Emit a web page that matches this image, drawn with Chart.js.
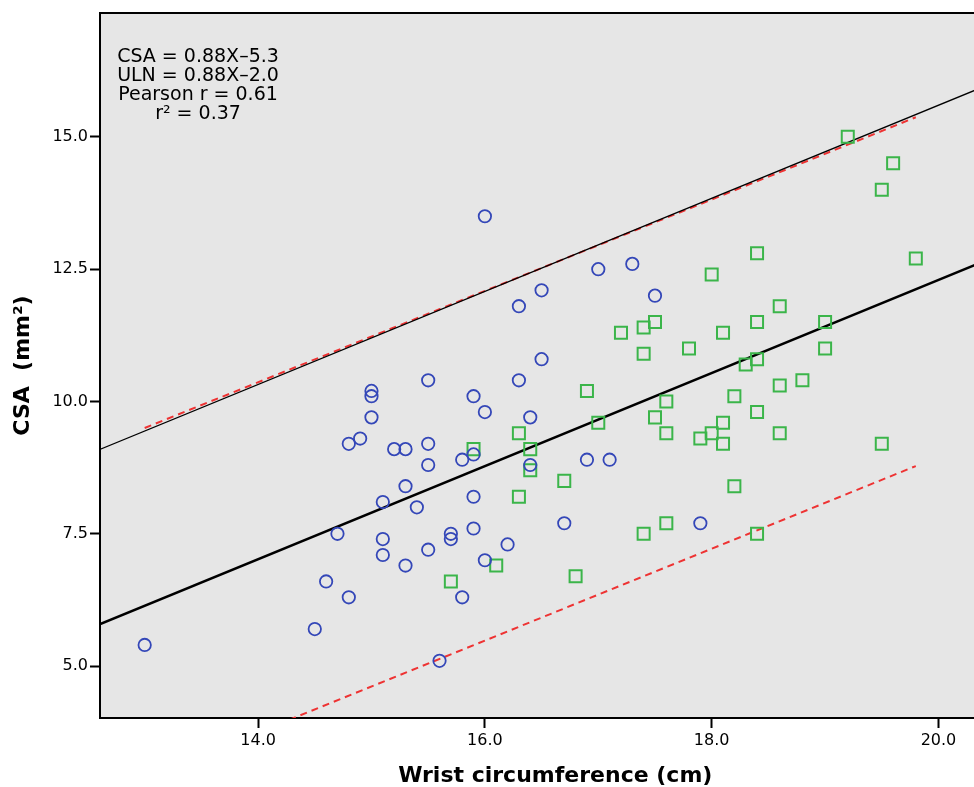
<!DOCTYPE html>
<html>
<head>
<meta charset="utf-8">
<script src="https://cdn.jsdelivr.net/npm/chart.js@4.4.0/dist/chart.umd.min.js"></script>
<style>
html, body { margin: 0; padding: 0; background: #fff; overflow: hidden; }
#wrap { width: 974px; height: 787px; overflow: hidden; }
</style>
</head>
<body>
<div id="wrap"><canvas id="scatter" width="1021" height="787"></canvas></div>
<script>
// group 1 (blue circles)
var blueX = [13.0, 14.5, 14.6, 14.7, 14.8, 14.8, 14.9, 15.0, 15.0, 15.0, 15.1, 15.1, 15.1, 15.2, 15.3, 15.3, 15.3, 15.4, 15.5, 15.5, 15.5, 15.5, 15.6, 15.7, 15.7, 15.8, 15.8, 15.9, 15.9, 15.9, 15.9, 16.0, 16.0, 16.0, 16.2, 16.3, 16.3, 16.4, 16.4, 16.5, 16.5, 16.7, 16.9, 17.0, 17.1, 17.3, 17.5, 17.9];
var blueY = [5.4, 5.7, 6.6, 7.5, 6.3, 9.2, 9.3, 10.2, 10.1, 9.7, 8.1, 7.4, 7.1, 9.1, 9.1, 8.4, 6.9, 8.0, 10.4, 9.2, 8.8, 7.2, 5.1, 7.5, 7.4, 8.9, 6.3, 10.1, 9.0, 8.2, 7.6, 13.5, 9.8, 7.0, 7.3, 11.8, 10.4, 9.7, 8.8, 12.1, 10.8, 7.7, 8.9, 12.5, 8.9, 12.6, 12.0, 7.7];

// group 2 (green squares)
var greenX = [15.7, 15.9, 16.1, 16.3, 16.3, 16.4, 16.4, 16.7, 16.8, 16.9, 17.0, 17.2, 17.4, 17.4, 17.4, 17.5, 17.5, 17.6, 17.6, 17.6, 17.8, 17.9, 18.0, 18.0, 18.1, 18.1, 18.1, 18.2, 18.2, 18.3, 18.4, 18.4, 18.4, 18.4, 18.4, 18.6, 18.6, 18.6, 18.8, 19.0, 19.0, 19.2, 19.5, 19.5, 19.6, 19.8];
var greenY = [6.6, 9.1, 6.9, 9.4, 8.2, 9.1, 8.7, 8.5, 6.7, 10.2, 9.6, 11.3, 11.4, 10.9, 7.5, 11.5, 9.7, 10.0, 9.4, 7.7, 11.0, 9.3, 12.4, 9.4, 11.3, 9.6, 9.2, 10.1, 8.4, 10.7, 12.8, 11.5, 10.8, 9.8, 7.5, 11.8, 10.3, 9.4, 10.4, 11.5, 11.0, 15.0, 14.0, 9.2, 14.5, 12.7];

// fit line, upper limit of normal, and dashed interval lines (end points)
var fitX = [12.6, 20.64];
var fitY = [5.79, 12.86];
var ulnX = [12.6, 20.64];
var ulnY = [9.09, 16.16];
var ciX = [13.0, 19.8];
var ciUpperY = [9.5, 15.37];
var ciLowerY = [2.88, 8.78];

var xTicks = [14, 16, 18, 20];
var yTicks = [5, 7.5, 10, 12.5, 15];

var notes = ["CSA = 0.88X\u20135.3", "ULN = 0.88X\u20132.0", "Pearson r = 0.61", "r\u00b2 = 0.37"];

function toPoints(xs, ys) {
	return xs.map(function (x, i) {
		return { x: x, y: ys[i] };
	});
}

function lineSet(xs, ys, color, width, dash) {
	return {
		data: toPoints(xs, ys),
		showLine: true,
		borderColor: color,
		borderWidth: width,
		borderDash: dash,
		pointRadius: 0,
		fill: false,
		order: 2,
	};
}

var plotFrame = {
	id: "plotFrame",
	beforeDraw: function (chart) {
		var a = chart.chartArea;
		var ctx = chart.ctx;
		ctx.save();
		ctx.fillStyle = "#e6e6e6";
		ctx.fillRect(a.left, a.top, a.right - a.left, a.bottom - a.top);
		ctx.restore();
	},
	afterDraw: function (chart) {
		var a = chart.chartArea;
		var ctx = chart.ctx;
		ctx.save();
		ctx.strokeStyle = "#000";
		ctx.lineWidth = 2;
		ctx.beginPath();
		ctx.moveTo(a.left - 1, a.top);
		ctx.lineTo(a.right, a.top);
		ctx.stroke();
		// regression notes
		ctx.fillStyle = "#000";
		ctx.font = "19px 'DejaVu Sans'";
		ctx.textAlign = "center";
		ctx.textBaseline = "middle";
		notes.forEach(function (t, i) {
			ctx.fillText(t, a.left + 98, a.top + 44 + i * 19);
		});
		ctx.restore();
	},
};

const ctx = document.getElementById("scatter");
const myChart = new Chart(ctx, {
	type: "scatter",
	data: {
		datasets: [
			{
				data: toPoints(blueX, blueY),
				pointStyle: "circle",
				pointRadius: 6.2,
				borderColor: "#3447b8",
				backgroundColor: "rgba(0,0,0,0)",
				borderWidth: 1.8,
				order: 1,
			},
			{
				data: toPoints(greenX, greenY),
				pointStyle: "rect",
				pointRadius: 8.5,
				borderColor: "#3bb54a",
				backgroundColor: "rgba(0,0,0,0)",
				borderWidth: 2,
				order: 1,
			},
			lineSet(fitX, fitY, "#000", 2.5, []),
			lineSet(ulnX, ulnY, "#000", 1.3, []),
			lineSet(ciX, ciUpperY, "#ee3333", 2, [7, 5]),
			lineSet(ciX, ciLowerY, "#ee3333", 2, [7, 5]),
		],
	},
	options: {
		responsive: false,
		animation: false,
		layout: {
			padding: { top: 13, right: 0, left: 0, bottom: 0 },
		},
		plugins: {
			legend: { display: false },
			tooltip: { enabled: false },
		},
		scales: {
			x: {
				type: "linear",
				min: 12.606,
				max: 20.635,
				afterBuildTicks: function (s) {
					s.ticks = xTicks.map(function (v) { return { value: v }; });
				},
				afterFit: function (s) {
					s.height = 69;
				},
				grid: {
					drawOnChartArea: false,
					drawTicks: true,
					tickLength: 10,
					tickColor: "#000",
					tickWidth: 2,
				},
				border: { display: true, color: "#000", width: 2 },
				ticks: {
					autoSkip: false,
					maxRotation: 0,
					padding: 3,
					color: "#000",
					font: { family: "DejaVu Sans", size: 16 },
					callback: function (v) { return Number(v).toFixed(1); },
				},
				title: {
					display: true,
					text: "Wrist circumference (cm)",
					color: "#000",
					font: { family: "DejaVu Sans", size: 22, weight: "bold", lineHeight: 1 },
					padding: { top: 0, bottom: 0 },
				},
			},
			y: {
				type: "linear",
				min: 4.02,
				max: 17.34,
				afterBuildTicks: function (s) {
					s.ticks = yTicks.map(function (v) { return { value: v }; });
				},
				afterFit: function (s) {
					s.width = 100;
				},
				grid: {
					drawOnChartArea: false,
					drawTicks: true,
					tickLength: 10,
					tickColor: "#000",
					tickWidth: 2,
				},
				border: { display: true, color: "#000", width: 2 },
				ticks: {
					autoSkip: false,
					padding: 2,
					color: "#000",
					font: { family: "DejaVu Sans", size: 16 },
					callback: function (v) { return Number(v).toFixed(1); },
				},
				title: {
					display: true,
					text: "CSA  (mm\u00b2)",
					color: "#000",
					font: { family: "DejaVu Sans", size: 22, weight: "bold", lineHeight: 1 },
					padding: { top: 12, bottom: 0 },
				},
			},
		},
	},
	plugins: [plotFrame],
});
</script>
</body>
</html>
